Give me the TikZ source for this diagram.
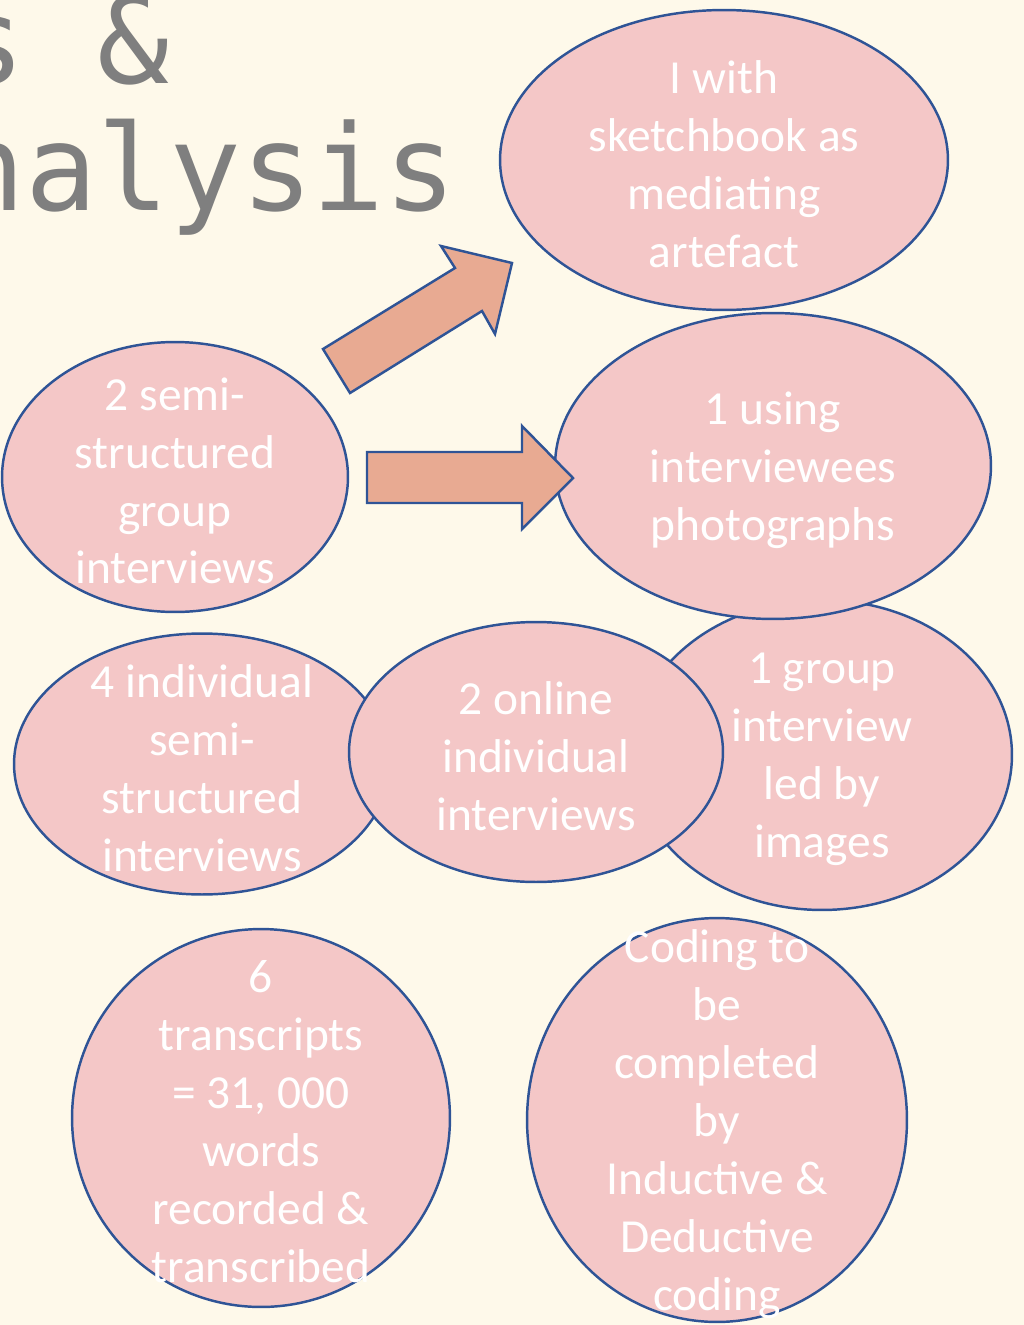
\documentclass[tikz,border=0pt]{standalone}
\usepackage{fontspec}
\setmainfont{Carlito}
\newfontfamily\titlefont{DejaVu Sans Mono}
\usetikzlibrary{shapes.geometric}
\definecolor{bgcream}{HTML}{FEF9EA}
\definecolor{bubblepink}{HTML}{F4C7C7}
\definecolor{edgeblue}{HTML}{2F5496}
\definecolor{arrowsalmon}{HTML}{E8AA92}
\definecolor{titlegray}{HTML}{7F7F7F}
\begin{document}
\begin{tikzpicture}[
  x=0.02cm, y=-0.02cm,
  bubble/.style={draw=edgeblue, line width=1.4pt, fill=bubblepink, ellipse, inner sep=0pt},
  bubbletext/.style={text=white, align=center, inner sep=0pt, yshift=-2.2pt, font=\fontsize{27}{33}\selectfont},
  blockarrow/.style={draw=edgeblue, line width=1.4pt, fill=arrowsalmon, line join=miter},
  heading/.style={text=titlegray, anchor=base west, inner sep=0pt, font=\titlefont\fontsize{68}{80}\selectfont}
]
\fill[bgcream] (0,0) rectangle (1024,1325);
\useasboundingbox (0,0) rectangle (1024,1325);

% title, cut off at the left edge
\node[heading] (titletop) at (-47,83)  {s \&};
\node[heading] (titlebot) at (-47,210) {nalysis};

% bubbles
\node[bubble, minimum width=8.96cm, minimum height=6.0cm]  (sketch) at (724,160) {};
\node[bubbletext] (sketch-t) at (sketch) {I with\\sketchbook as\\mediating\\artefact};

\node[bubble, minimum width=6.92cm, minimum height=5.4cm]  (groupsemi) at (175,477) {};
\node[bubbletext] (groupsemi-t) at (groupsemi) {2 semi-\\structured\\group\\interviews};

\node[bubble, minimum width=7.52cm, minimum height=5.22cm] (indiv) at (202,764) {};
\node[bubbletext] (indiv-t) at (indiv) {4 individual\\semi-\\structured\\interviews};

\node[bubble, minimum width=7.6cm, minimum height=6.2cm]   (groupimg) at (822,755) {};
\node[bubbletext] (groupimg-t) at (groupimg) {1 group\\interview\\led by\\images};

\node[bubble, minimum width=8.72cm, minimum height=6.12cm] (photos) at (773,466) {};
\node[bubbletext] (photos-t) at (photos) {1 using\\interviewees\\photographs};

\node[bubble, minimum width=7.48cm, minimum height=5.2cm]  (online) at (536,752) {};
\node[bubbletext] (online-t) at (online) {2 online\\individual\\interviews};

\node[bubble, minimum width=7.56cm, minimum height=7.56cm] (transcripts) at (261,1118) {};
\node[bubbletext] (transcripts-t) at (transcripts) {6\\transcripts\\= 31, 000\\words\\recorded \&\\transcribed};

\node[bubble, minimum width=7.6cm, minimum height=8.08cm]  (coding) at (717,1120) {};
\node[bubbletext] (coding-t) at (coding) {Coding to\\be\\completed\\by\\Inductive \&\\Deductive\\coding};

% block arrows
\draw[blockarrow] (323,349) -- (455,268) -- (441,246) -- (512,263) -- (495,334) -- (482,311) -- (350,393) -- cycle;
\draw[blockarrow] (367,452) -- (522,452) -- (522,426) -- (573,478) -- (522,529) -- (522,503) -- (367,503) -- cycle;
\end{tikzpicture}
\end{document}
